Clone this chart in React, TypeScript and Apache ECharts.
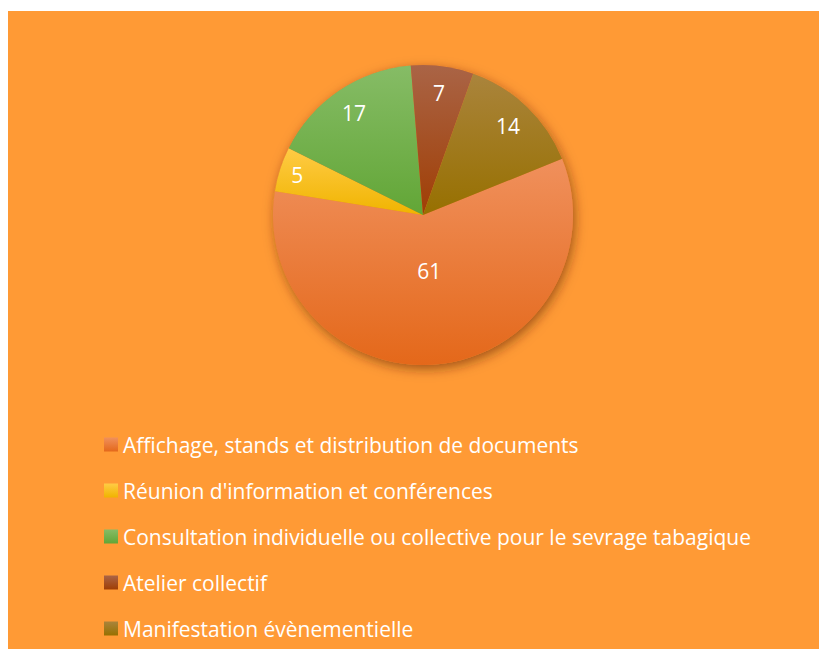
import React, { useEffect, useRef } from "react";
import * as echarts from "echarts";

const categories = [
  "Affichage, stands et distribution de documents",
  "Réunion d'information et conférences",
  "Consultation individuelle ou collective pour le sevrage tabagique",
  "Atelier collectif",
  "Manifestation évènementielle",
];
const values = [61, 5, 17, 7, 14];
const topColors = ["#F0905C", "#FFCB45", "#86BC66", "#AA6446", "#AA843C"];
const bottomColors = ["#E4681A", "#F0B400", "#62A636", "#A03E04", "#977000"];
// which label ring each value sits on (0 = near centre, 1 = outer, 2 = far outer)
const labelRing = [0, 2, 1, 1, 1];

export default function App() {
  const ref = useRef<HTMLDivElement>(null);
  useEffect(() => {
    if (!ref.current) return;
    const chart = echarts.init(ref.current, null, { renderer: "svg" });
    const center = [415, 204];
    const grad = (i: number) =>
      new echarts.graphic.LinearGradient(0, 0, 0, 1, [
        { offset: 0, color: topColors[i] },
        { offset: 1, color: bottomColors[i] },
      ]);
    const labelStyle = {
      position: "inside",
      formatter: "{c}",
      color: "#FFFFFF",
      fontFamily: "Open Sans",
      fontSize: 21,
    };
    const labelSeries = (ring: number, radius: number) => ({
      type: "pie",
      name: "labels" + ring,
      center,
      radius,
      startAngle: 22,
      silent: true,
      z: 5,
      emphasis: { disabled: true },
      labelLine: { show: false },
      itemStyle: { color: "rgba(0,0,0,0)" },
      label: labelStyle,
      data: categories.map((c, i) => ({
        name: c,
        value: values[i],
        label: { show: labelRing[i] === ring },
      })),
    });
    chart.setOption({
      animation: false,
      backgroundColor: "#FF9A35",
      legend: {
        orient: "vertical",
        left: 96,
        top: 423,
        padding: 0,
        itemWidth: 14,
        itemHeight: 14,
        itemGap: 25,
        icon: "rect",
        selectedMode: false,
        data: categories,
        textStyle: {
          color: "#FFFFFF",
          fontFamily: "Open Sans",
          fontSize: 21,
          lineHeight: 20,
        },
      },
      series: [
        {
          type: "pie",
          name: "shadow",
          center,
          radius: 150,
          silent: true,
          z: 1,
          label: { show: false },
          labelLine: { show: false },
          emphasis: { disabled: true },
          itemStyle: {
            color: "#E87A2A",
            shadowBlur: 12,
            shadowOffsetX: 2,
            shadowOffsetY: 4,
            shadowColor: "rgba(90,35,0,0.55)",
          },
          data: [{ name: "__shadow", value: 1 }],
        },
        {
          type: "pie",
          name: "main",
          center,
          radius: 150,
          startAngle: 22,
          z: 2,
          emphasis: { disabled: true },
          label: { show: false },
          labelLine: { show: false },
          data: categories.map((c, i) => ({
            name: c,
            value: values[i],
            itemStyle: { color: grad(i) },
          })),
        },
        labelSeries(0, 106),
        labelSeries(1, 240),
        labelSeries(2, 258),
      ],
    });
    return () => chart.dispose();
  }, []);
  return <div ref={ref} style={{ width: 819, height: 638, marginTop: 3 }} />;
}
